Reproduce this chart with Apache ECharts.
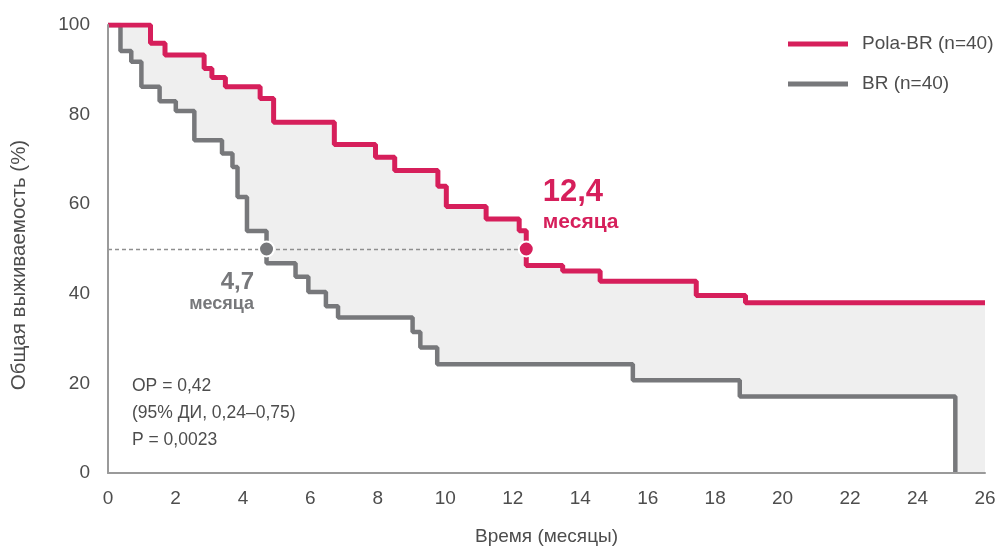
<!DOCTYPE html>
<html>
<head>
<meta charset="utf-8">
<script src="https://cdn.jsdelivr.net/npm/echarts@6/dist/echarts.min.js"></script>
<style>
  html, body { margin: 0; padding: 0; background: #fff; }
  #chart { width: 1000px; height: 547px; }
</style>
</head>
<body>
<div id="chart"></div>
<script>
// Pola-BR: время (мес.) и выживаемость (%) после каждого шага
var polaTime  = [0, 1.26, 1.69, 2.85, 3.08, 3.48, 4.51, 4.91, 6.71, 7.93, 8.5, 9.78, 10.03, 11.21, 12.19, 12.4, 13.48, 14.59, 17.44, 18.9, 26];
var polaValue = [100, 95.9, 93.3, 90.3, 88.3, 86.2, 83.6, 78.3, 73.3, 70.5, 67.5, 64.0, 59.5, 56.7, 54.1, 46.3, 45.1, 42.8, 39.6, 38.0, 38.0];

// BR
var brTime  = [0, 0.37, 0.69, 0.99, 1.53, 2.01, 2.56, 3.38, 3.69, 3.84, 4.12, 4.7, 5.56, 5.94, 6.46, 6.82, 9.03, 9.26, 9.76, 15.56, 18.73, 25.12];
var brValue = [100, 94.2, 91.8, 86.2, 83.0, 80.8, 74.3, 71.3, 68.3, 61.6, 54.0, 46.8, 43.8, 40.4, 37.2, 34.7, 31.5, 28.0, 24.3, 20.7, 17.1, 0];

// медианы
var medianTime = [4.7, 12.4];
var medianValue = 50;
var medianLabel = ['4,7', '12,4'];

var xTicks = [0, 26, 2];
var yTicks = [0, 100, 20];

var RED = '#d61f5b';
var GRAY = '#77787b';
var TXT = '#4d4d4d';
var FONT = '"Liberation Sans", sans-serif';

function pairs(t, v) {
    var out = [];
    for (var i = 0; i < t.length; i++) {
        out.push([t[i], v[i]]);
    }
    return out;
}

var polaData = pairs(polaTime, polaValue);
var brData = pairs(brTime, brValue);

var myChart = echarts.init(document.getElementById('chart'));

var option = {
    animation: false,
    grid: { left: 108, right: 15, top: 25, bottom: 74, outerBoundsMode: 'none' },
    legend: {
        orient: 'vertical',
        left: 783,
        top: 28,
        icon: 'rect',
        itemWidth: 60,
        itemHeight: 5,
        itemGap: 18,
        selectedMode: false,
        data: ['Pola-BR (n=40)', 'BR (n=40)'],
        textStyle: { fontFamily: FONT, fontSize: 19, color: TXT, padding: [0, 0, 0, 9], lineHeight: 22 }
    },
    xAxis: {
        type: 'value',
        min: xTicks[0],
        max: xTicks[1],
        interval: xTicks[2],
        z: 10,
        name: 'Время (месяцы)',
        nameLocation: 'middle',
        nameGap: 54,
        nameTextStyle: { fontFamily: FONT, fontSize: 19, color: TXT },
        splitLine: { show: false },
        axisTick: { show: false },
        axisLine: { show: true, lineStyle: { color: '#9a9a9a', width: 2 } },
        axisLabel: { fontFamily: FONT, fontSize: 19, color: TXT, margin: 16 }
    },
    yAxis: {
        type: 'value',
        min: yTicks[0],
        max: yTicks[1],
        interval: yTicks[2],
        z: 10,
        name: 'Общая выживаемость (%)',
        nameLocation: 'middle',
        nameGap: 78,
        nameTextStyle: { fontFamily: FONT, fontSize: 20.5, color: TXT, padding: [0, 32, 0, 0] },
        splitLine: { show: false },
        axisTick: { show: false },
        axisLine: { show: true, lineStyle: { color: '#9a9a9a', width: 2 } },
        axisLabel: { fontFamily: FONT, fontSize: 19, color: TXT, margin: 18 }
    },
    series: [
        {
            // серая заливка между кривыми
            name: 'fill',
            type: 'line',
            step: 'end',
            data: polaData,
            showSymbol: false,
            silent: true,
            z: 1,
            lineStyle: { width: 0, opacity: 0 },
            areaStyle: { color: '#efefef', opacity: 1 }
        },
        {
            name: 'BR (n=40)',
            type: 'line',
            step: 'end',
            data: brData,
            showSymbol: false,
            z: 2,
            color: GRAY,
            lineStyle: { color: GRAY, width: 4.5 },
            areaStyle: { color: '#ffffff', opacity: 1 }
        },
        {
            name: 'Pola-BR (n=40)',
            type: 'line',
            step: 'end',
            data: polaData,
            showSymbol: false,
            z: 3,
            color: RED,
            lineStyle: { color: RED, width: 5 },
            markLine: {
                silent: true,
                symbol: 'none',
                label: { show: false },
                lineStyle: { color: '#8f8f8f', type: [4, 3], width: 1.3 },
                data: [[{ coord: [0, medianValue] }, { coord: [medianTime[1], medianValue] }]]
            }
        },
        {
            type: 'scatter',
            z: 5,
            symbolSize: 15,
            silent: true,
            data: [
                {
                    value: [medianTime[0], medianValue],
                    itemStyle: { color: GRAY, borderColor: '#fff', borderWidth: 2, opacity: 1 },
                    label: {
                        show: true,
                        position: 'left',
                        distance: 4,
                        offset: [0, 43],
                        align: 'right',
                        formatter: '{a|' + medianLabel[0] + '}\n{b|месяца}',
                        rich: {
                            a: { fontFamily: FONT, fontWeight: 'bold', fontSize: 24, color: GRAY, lineHeight: 25, align: 'right' },
                            b: { fontFamily: FONT, fontWeight: 'bold', fontSize: 18, color: GRAY, lineHeight: 20, align: 'right' }
                        }
                    }
                },
                {
                    value: [medianTime[1], medianValue],
                    itemStyle: { color: RED, borderColor: '#fff', borderWidth: 2, opacity: 1 },
                    label: {
                        show: true,
                        position: 'right',
                        distance: 8,
                        offset: [0, -45],
                        align: 'left',
                        formatter: '{a|' + medianLabel[1] + '}\n{b|месяца}',
                        rich: {
                            a: { fontFamily: FONT, fontWeight: 'bold', fontSize: 31, color: RED, lineHeight: 36 },
                            b: { fontFamily: FONT, fontWeight: 'bold', fontSize: 21, color: RED, lineHeight: 24 }
                        }
                    }
                }
            ]
        }
    ],
    graphic: [
        {
            type: 'text',
            left: 132,
            top: 373,
            z: 20,
            style: {
                text: 'ОР = 0,42\n(95% ДИ, 0,24–0,75)\nP = 0,0023',
                fontFamily: FONT,
                fontSize: 17.5,
                lineHeight: 27,
                fill: TXT
            }
        }
    ]
};

myChart.setOption(option);
</script>
</body>
</html>
